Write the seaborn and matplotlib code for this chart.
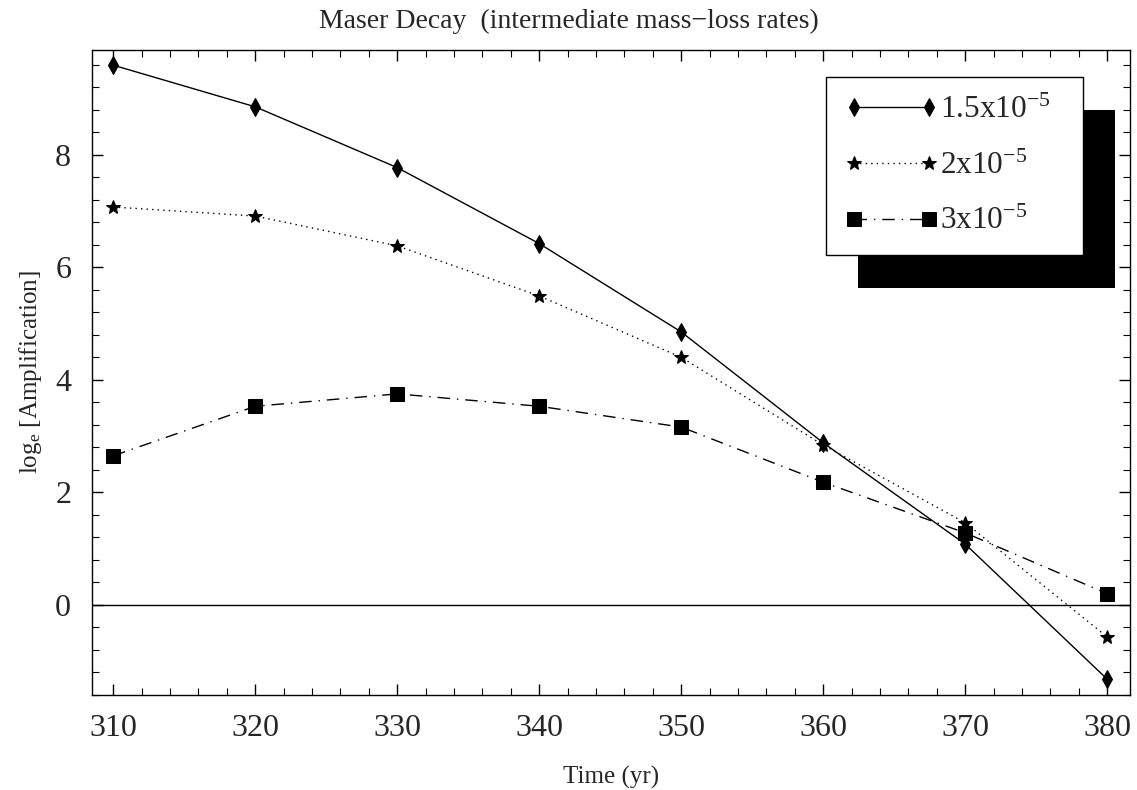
import matplotlib
matplotlib.use("Agg")
import matplotlib.pyplot as plt
import numpy as np
import pandas as pd
import seaborn as sns
from matplotlib.patches import Rectangle
from matplotlib.ticker import MultipleLocator

# values
TIME = [310, 320, 330, 340, 350, 360, 370, 380]
AMP_15 = [9.59, 8.85, 7.77, 6.42, 4.85, 2.88, 1.08, -1.32]
AMP_20 = [7.07, 6.91, 6.38, 5.49, 4.40, 2.84, 1.46, -0.57]
AMP_30 = [2.65, 3.53, 3.75, 3.53, 3.16, 2.18, 1.28, 0.20]
LABELS = [r"1.5x10$^{-5}$", r"2x10$^{-5}$", r"3x10$^{-5}$"]

sns.set_theme(style="white")
plt.rcParams["font.family"] = ["Liberation Serif", "DejaVu Serif"]
plt.rcParams["mathtext.fontset"] = "custom"
plt.rcParams["mathtext.rm"] = "Liberation Serif"
plt.rcParams["mathtext.it"] = "Liberation Serif:italic"

df = pd.DataFrame({"time": TIME, "a15": AMP_15, "a20": AMP_20, "a30": AMP_30})

fig = plt.figure(figsize=(11.37, 7.90), dpi=100)
ax = fig.add_axes([92 / 1137, 1 - 695 / 790, (1130 - 92) / 1137, (695 - 50) / 790])

styles = [
    ("a15", "d", 9, "-"),
    ("a20", "*", 10, (0, (1, 3))),
    ("a30", "s", 10, (0, (9, 5, 1, 5))),
]
for col, marker, ms, ls in styles:
    sns.lineplot(data=df, x="time", y=col, ax=ax, color="black", lw=1.0,
                 linestyle=ls, marker=marker, markersize=ms,
                 markeredgecolor="black", markerfacecolor="black")

ax.axhline(0, color="black", lw=1.0)

ax.set_xlim(308.5, 381.6)
ax.set_ylim(-1.6, 9.86)
ax.xaxis.set_major_locator(MultipleLocator(10))
ax.xaxis.set_minor_locator(MultipleLocator(2))
ax.yaxis.set_major_locator(MultipleLocator(2))
ax.yaxis.set_minor_locator(MultipleLocator(0.4))
ax.tick_params(which="both", direction="in", top=True, right=True,
               bottom=True, left=True, color="black", labelsize=23)
ax.tick_params(axis="x", pad=14)
ax.tick_params(axis="y", pad=15)
ax.tick_params(which="major", length=8, width=1)
ax.tick_params(which="minor", length=5, width=0.8)
for s in ax.spines.values():
    s.set_color("black")
    s.set_linewidth(1.0)

fig.text(0.5, 1 - 21 / 790, "Maser Decay  (intermediate mass\u2212loss rates)",
         fontsize=20, ha="center", va="center")
ax.set_xlabel("Time (yr)", fontsize=18, labelpad=16)
ax.set_ylabel(r"log$_\mathrm{e}$ [Amplification]", fontsize=18, labelpad=8)

# legend box spans x 826-1083 px, top at 77 px
leg_x0 = (826 - 92) / 1038
leg_w = (1083 - 826) / 1038
leg_top = 1 - (77 - 50) / 645
leg = ax.legend(ax.get_lines()[:3], LABELS, loc="upper left",
                bbox_to_anchor=(leg_x0, leg_top - 0.3, leg_w, 0.3), mode="expand",
                numpoints=2, handlelength=3.0, fontsize=22.5, frameon=True,
                fancybox=False, framealpha=1.0, borderpad=0.6,
                labelspacing=0.85, handletextpad=0.05, borderaxespad=0)
leg.get_frame().set_edgecolor("black")
leg.get_frame().set_linewidth(1.0)
leg.get_frame().set_facecolor("white")
leg.set_zorder(10)

# black drop shadow behind the legend box
fig.canvas.draw()
bb = leg.get_window_extent().transformed(fig.transFigure.inverted())
dx, dy = 32 / 1137, 33 / 790
shadow = Rectangle((bb.x0 + dx, bb.y0 - dy), bb.width, bb.height,
                   transform=fig.transFigure, facecolor="black",
                   edgecolor="none", zorder=9, clip_on=False)
ax.add_artist(shadow)

fig.savefig("out.png", dpi=100)
